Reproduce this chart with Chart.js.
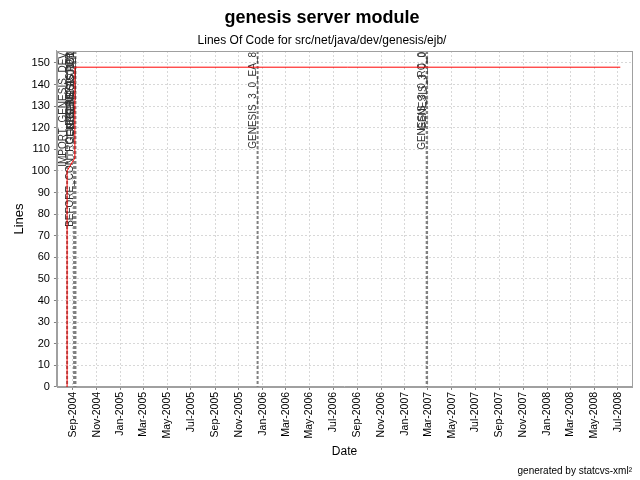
<!DOCTYPE html>
<html>
<head>
<meta charset="utf-8">
<script src="https://cdn.jsdelivr.net/npm/chart.js@4/dist/chart.umd.min.js"></script>
<style>
html,body{margin:0;padding:0;background:#fff;}
#wrap{width:640px;height:480px;}
</style>
</head>
<body>
<div id="wrap"><canvas id="c" width="640" height="480"></canvas></div>
<script>
// ---- data ----
const locDates = ['2004-08-17', '2004-08-17', '2004-09-06', '2004-09-06', '2008-07-07'];
const locValues = [0, 100, 106, 148, 148];

const tagDates = ['2004-08-17', '2004-09-04', '2004-09-06', '2004-09-06', '2004-09-07', '2004-09-07', '2005-12-19', '2007-02-26', '2007-02-27'];
const tagNames = ['IMPORT_GENESIS_DEV', 'BEFORE_CONTROLLER_REFACTOR', 'GENESIS_0_1', 'GENESIS_0_2_RC1', 'GENESIS_1_0', 'GENESIS_2_0_B1', 'GENESIS_3_0_EA_8', 'GENESIS_3_0_RC_0', 'GENESIS_3_0_0'];

const tickDates = ['2004-09-01','2004-11-01','2005-01-01','2005-03-01','2005-05-01','2005-07-01','2005-09-01','2005-11-01','2006-01-01','2006-03-01','2006-05-01','2006-07-01','2006-09-01','2006-11-01','2007-01-01','2007-03-01','2007-05-01','2007-07-01','2007-09-01','2007-11-01','2008-01-01','2008-03-01','2008-05-01','2008-07-01'];
const tickLabels = ['Sep-2004','Nov-2004','Jan-2005','Mar-2005','May-2005','Jul-2005','Sep-2005','Nov-2005','Jan-2006','Mar-2006','May-2006','Jul-2006','Sep-2006','Nov-2006','Jan-2007','Mar-2007','May-2007','Jul-2007','Sep-2007','Nov-2007','Jan-2008','Mar-2008','May-2008','Jul-2008'];

const xStart = '2004-07-22';
const xEnd = '2008-08-06';

// ---- helpers ----
function dayOf(s){ const p = s.split('-').map(Number); return Date.UTC(p[0], p[1]-1, p[2]) / 86400000; }

const FONT = "'Liberation Sans', Arial, sans-serif";

const markerPlugin = {
  id: 'markers',
  beforeDatasetsDraw(chart){
    const ctx = chart.ctx, xs = chart.scales.x, a = chart.chartArea;
    ctx.save();
    ctx.beginPath(); ctx.rect(a.left, a.top, a.right - a.left, a.bottom - a.top); ctx.clip();
    tagDates.forEach((d, i) => {
      const px = xs.getPixelForValue(dayOf(d));
      ctx.strokeStyle = '#808080';
      ctx.lineWidth = 2;
      ctx.setLineDash([3, 2]);
      ctx.beginPath(); ctx.moveTo(px, a.top); ctx.lineTo(px, a.bottom); ctx.stroke();
    });
    ctx.setLineDash([]);
    tagDates.forEach((d, i) => {
      const px = xs.getPixelForValue(dayOf(d));
      ctx.save();
      ctx.translate(px - 4, a.top + 1);
      ctx.rotate(-Math.PI / 2);
      ctx.font = '10px ' + FONT;
      ctx.fillStyle = '#333333';
      ctx.textAlign = 'right';
      ctx.textBaseline = 'middle';
      ctx.fillText(tagNames[i], 0, 0);
      ctx.restore();
    });
    ctx.restore();
  },
  afterDraw(chart){
    const ctx = chart.ctx, a = chart.chartArea;
    ctx.save();
    ctx.strokeStyle = '#a0a0a0';
    ctx.lineWidth = 1;
    ctx.strokeRect(Math.round(a.left) + 0.5, Math.round(a.top) + 0.5, Math.round(a.right - a.left), Math.round(a.bottom - a.top));
    ctx.font = '10px ' + FONT;
    ctx.fillStyle = '#000';
    ctx.textAlign = 'right';
    ctx.textBaseline = 'middle';
    ctx.fillText('generated by statcvs-xml\u00B2', chart.width - 8, chart.height - 9);
    ctx.restore();
  }
};

const points = locDates.map((d, i) => ({ x: dayOf(d), y: locValues[i] }));

new Chart(document.getElementById('c'), {
  type: 'line',
  data: {
    datasets: [{
      label: 'Lines',
      data: points,
      borderColor: '#ff0000',
      borderWidth: 1,
      pointRadius: 0,
      tension: 0,
      fill: false
    }]
  },
  options: {
    responsive: false,
    animation: false,
    devicePixelRatio: 1,
    layout: { padding: { left: 12, right: 8, top: 0, bottom: 21 } },
    plugins: {
      legend: { display: false },
      tooltip: { enabled: false },
      title: {
        display: true,
        text: 'genesis server module',
        color: '#000',
        font: { family: FONT, size: 18, weight: 'bold' },
        padding: { top: 7, bottom: 4 }
      },
      subtitle: {
        display: true,
        text: 'Lines Of Code for src/net/java/dev/genesis/ejb/',
        color: '#000',
        font: { family: FONT, size: 12 },
        padding: { top: 1, bottom: 3 }
      }
    },
    scales: {
      x: {
        type: 'linear',
        min: dayOf(xStart),
        max: dayOf(xEnd),
        afterBuildTicks(axis){ axis.ticks = tickDates.map(d => ({ value: dayOf(d) })); },
        ticks: {
          autoSkip: false,
          minRotation: 90,
          maxRotation: 90,
          color: '#000',
          font: { family: FONT, size: 10.5 },
          padding: 2,
          callback: (v, i) => tickLabels[i]
        },
        grid: {
          color: '#d8d8d8',
          tickLength: 3,
          tickColor: '#808080',
          tickBorderDash: []
        },
        border: { display: true, color: '#a0a0a0', dash: [2, 2] },
        title: { display: true, text: 'Date', color: '#000', font: { family: FONT, size: 12 }, padding: { top: 4, bottom: 0 } }
      },
      y: {
        min: 0,
        max: 155.5,
        ticks: {
          stepSize: 10,
          includeBounds: false,
          color: '#000',
          font: { family: FONT, size: 11 },
          padding: 4
        },
        grid: {
          color: '#d8d8d8',
          tickLength: 3,
          tickColor: '#808080',
          tickBorderDash: []
        },
        border: { display: true, color: '#a0a0a0', dash: [2, 2] },
        title: { display: true, text: 'Lines', color: '#000', font: { family: FONT, size: 13 }, padding: { top: 0, bottom: 0 } }
      }
    }
  },
  plugins: [markerPlugin]
});
</script>
</body>
</html>
